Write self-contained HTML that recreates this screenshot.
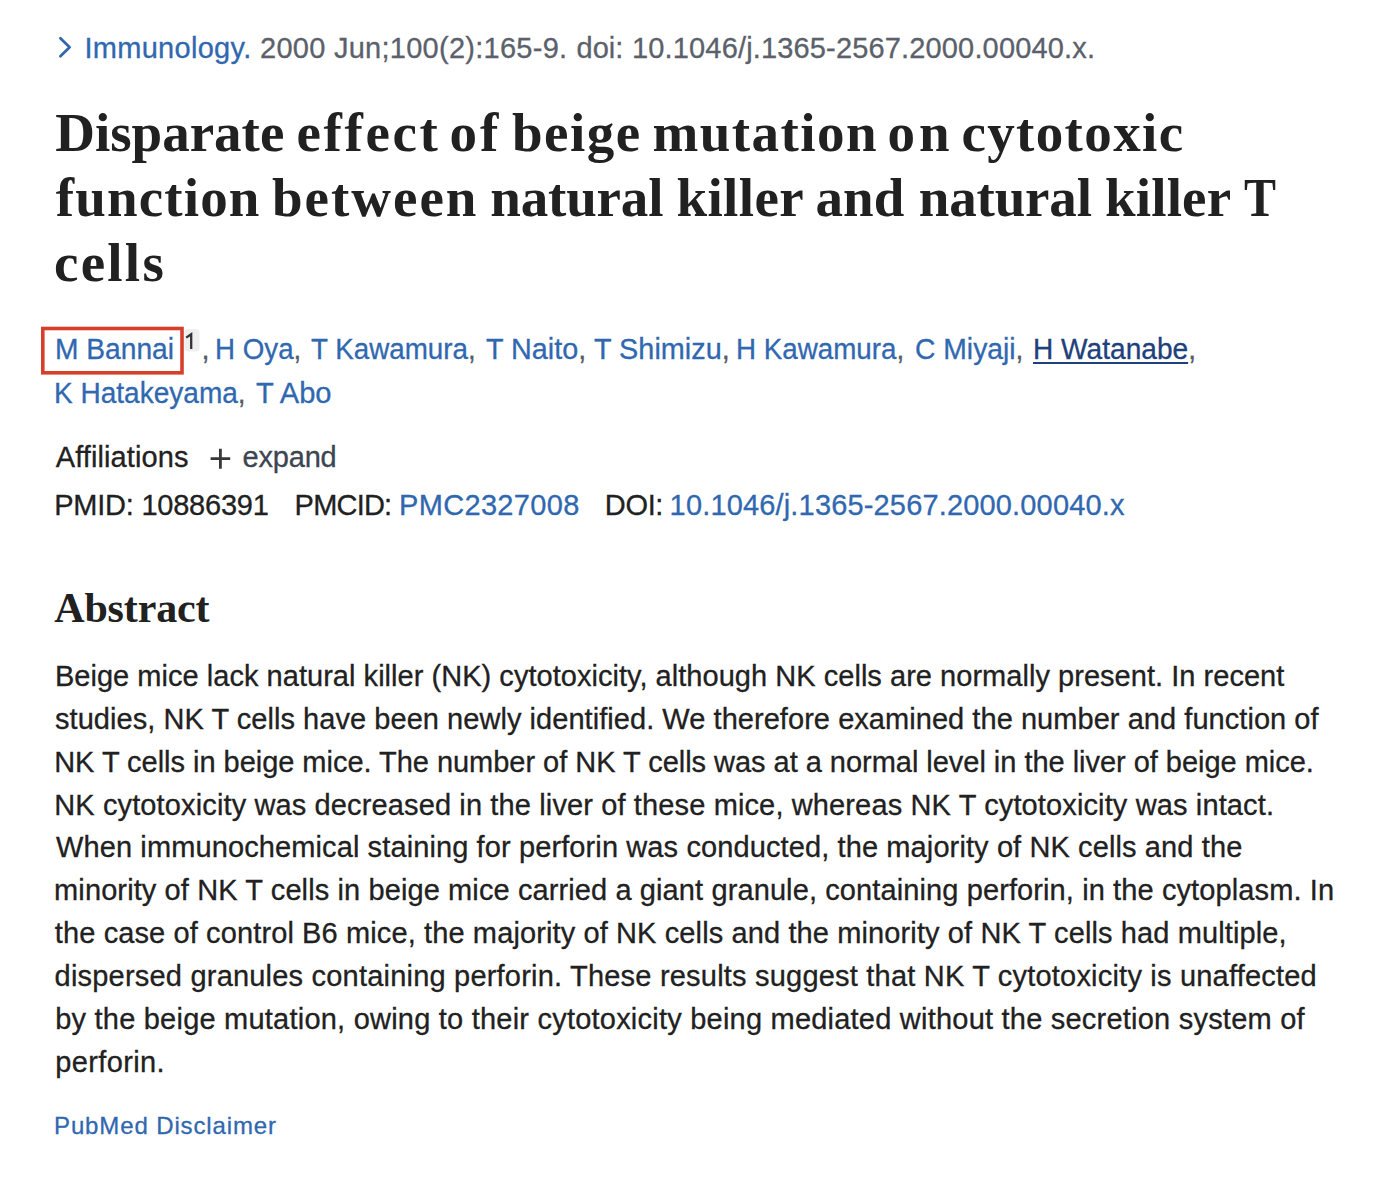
<!DOCTYPE html>
<html><head><meta charset="utf-8"><style>
html,body{margin:0;padding:0;background:#fff;width:1380px;height:1187px;overflow:hidden;position:relative}
.ln{position:absolute;white-space:nowrap;-webkit-text-stroke:0.3px currentColor}
.a{color:#3068b0}
.cm{color:#555b66}
.hov{color:#20407c;text-decoration:underline;text-decoration-thickness:2px;text-underline-offset:3px}
.sp{display:inline-block;width:28px}
svg{position:absolute;left:0;top:0}
</style></head><body>
<div id="jr0" class="ln" style="top:33.65px;left:84.40px;font-family:'Liberation Sans', sans-serif;font-size:29px;line-height:29px;color:#3068b0;font-weight:normal;letter-spacing:0.300px">Immunology.</div>
<div id="jr1" class="ln" style="top:33.65px;left:260.00px;font-family:'Liberation Sans', sans-serif;font-size:29px;line-height:29px;color:#5b616b;font-weight:normal;letter-spacing:0.267px">2000 Jun;100(2):165-9.</div>
<div id="jr2" class="ln" style="top:33.65px;left:576.60px;font-family:'Liberation Sans', sans-serif;font-size:29px;line-height:29px;color:#5b616b;font-weight:normal;letter-spacing:0.000px">doi:</div>
<div id="jr3" class="ln" style="top:33.65px;left:632.00px;font-family:'Liberation Sans', sans-serif;font-size:29px;line-height:29px;color:#5b616b;font-weight:normal;letter-spacing:0.156px">10.1046/j.1365-2567.2000.00040.x.</div>
<div id="t0_0" class="ln" style="top:104.94px;left:55.20px;font-family:'Liberation Serif', serif;font-size:55px;line-height:55px;color:#212121;font-weight:bold;-webkit-text-stroke:0;letter-spacing:0.000px">Disparate</div>
<div id="t0_1" class="ln" style="top:104.94px;left:296.60px;font-family:'Liberation Serif', serif;font-size:55px;line-height:55px;color:#212121;font-weight:bold;-webkit-text-stroke:0;letter-spacing:2.600px">effect</div>
<div id="t0_2" class="ln" style="top:104.94px;left:449.60px;font-family:'Liberation Serif', serif;font-size:55px;line-height:55px;color:#212121;font-weight:bold;-webkit-text-stroke:0;letter-spacing:3.000px">of</div>
<div id="t0_3" class="ln" style="top:104.94px;left:512.00px;font-family:'Liberation Serif', serif;font-size:55px;line-height:55px;color:#212121;font-weight:bold;-webkit-text-stroke:0;letter-spacing:1.500px">beige</div>
<div id="t0_4" class="ln" style="top:104.94px;left:652.60px;font-family:'Liberation Serif', serif;font-size:55px;line-height:55px;color:#212121;font-weight:bold;-webkit-text-stroke:0;letter-spacing:1.429px">mutation</div>
<div id="t0_5" class="ln" style="top:104.94px;left:887.60px;font-family:'Liberation Serif', serif;font-size:55px;line-height:55px;color:#212121;font-weight:bold;-webkit-text-stroke:0;letter-spacing:4.000px">on</div>
<div id="t0_6" class="ln" style="top:104.94px;left:961.40px;font-family:'Liberation Serif', serif;font-size:55px;line-height:55px;color:#212121;font-weight:bold;-webkit-text-stroke:0;letter-spacing:1.375px">cytotoxic</div>
<div id="t1_0" class="ln" style="top:169.94px;left:55.80px;font-family:'Liberation Serif', serif;font-size:55px;line-height:55px;color:#212121;font-weight:bold;-webkit-text-stroke:0;letter-spacing:1.143px">function</div>
<div id="t1_1" class="ln" style="top:169.94px;left:272.00px;font-family:'Liberation Serif', serif;font-size:55px;line-height:55px;color:#212121;font-weight:bold;-webkit-text-stroke:0;letter-spacing:2.000px">between</div>
<div id="t1_2" class="ln" style="top:169.94px;left:490.30px;font-family:'Liberation Serif', serif;font-size:55px;line-height:55px;color:#212121;font-weight:bold;-webkit-text-stroke:0;letter-spacing:-0.167px">natural</div>
<div id="t1_3" class="ln" style="top:169.94px;left:676.40px;font-family:'Liberation Serif', serif;font-size:55px;line-height:55px;color:#212121;font-weight:bold;-webkit-text-stroke:0;letter-spacing:0.400px">killer</div>
<div id="t1_4" class="ln" style="top:169.94px;left:815.60px;font-family:'Liberation Serif', serif;font-size:55px;line-height:55px;color:#212121;font-weight:bold;-webkit-text-stroke:0;letter-spacing:-0.000px">and</div>
<div id="t1_5" class="ln" style="top:169.94px;left:918.80px;font-family:'Liberation Serif', serif;font-size:55px;line-height:55px;color:#212121;font-weight:bold;-webkit-text-stroke:0;letter-spacing:-0.167px">natural</div>
<div id="t1_6" class="ln" style="top:169.94px;left:1104.90px;font-family:'Liberation Serif', serif;font-size:55px;line-height:55px;color:#212121;font-weight:bold;-webkit-text-stroke:0;letter-spacing:0.200px">killer</div>
<div id="t1_7" class="ln" style="top:169.94px;left:1243.70px;font-family:'Liberation Serif', serif;font-size:55px;line-height:55px;color:#212121;font-weight:bold;-webkit-text-stroke:0;letter-spacing:0.000px;transform:scaleX(0.8721);transform-origin:0 0">T</div>
<div id="t2_0" class="ln" style="top:234.94px;left:54.00px;font-family:'Liberation Serif', serif;font-size:55px;line-height:55px;color:#212121;font-weight:bold;-webkit-text-stroke:0;letter-spacing:2.250px">cells</div>
<div id="au0_0" class="ln" style="top:335.45px;left:54.50px;font-family:'Liberation Sans', sans-serif;font-size:29px;line-height:29px;color:#3068b0;font-weight:normal;letter-spacing:0.000px;transform:scaleX(0.9714);transform-origin:0 0"><span class="a">M Bannai</span></div>
<div id="au0_1" class="ln" style="top:335.45px;left:215.40px;font-family:'Liberation Sans', sans-serif;font-size:29px;line-height:29px;color:#3068b0;font-weight:normal;letter-spacing:0.000px;transform:scaleX(0.9562);transform-origin:0 0"><span class="a">H Oya</span><span class="cm">,</span></div>
<div id="au0_2" class="ln" style="top:335.45px;left:310.90px;font-family:'Liberation Sans', sans-serif;font-size:29px;line-height:29px;color:#3068b0;font-weight:normal;letter-spacing:0.000px;transform:scaleX(0.9578);transform-origin:0 0"><span class="a">T Kawamura</span><span class="cm">,</span></div>
<div id="au0_3" class="ln" style="top:335.45px;left:486.10px;font-family:'Liberation Sans', sans-serif;font-size:29px;line-height:29px;color:#3068b0;font-weight:normal;letter-spacing:0.000px;transform:scaleX(0.9923);transform-origin:0 0"><span class="a">T Naito</span><span class="cm">,</span></div>
<div id="au0_4" class="ln" style="top:335.45px;left:594.30px;font-family:'Liberation Sans', sans-serif;font-size:29px;line-height:29px;color:#3068b0;font-weight:normal;letter-spacing:0.000px;transform:scaleX(0.9948);transform-origin:0 0"><span class="a">T Shimizu</span><span class="cm">,</span></div>
<div id="au0_5" class="ln" style="top:335.45px;left:735.70px;font-family:'Liberation Sans', sans-serif;font-size:29px;line-height:29px;color:#3068b0;font-weight:normal;letter-spacing:0.000px;transform:scaleX(0.9572);transform-origin:0 0"><span class="a">H Kawamura</span><span class="cm">,</span></div>
<div id="au0_6" class="ln" style="top:335.45px;left:915.00px;font-family:'Liberation Sans', sans-serif;font-size:29px;line-height:29px;color:#3068b0;font-weight:normal;letter-spacing:0.000px;transform:scaleX(0.9756);transform-origin:0 0"><span class="a">C Miyaji</span><span class="cm">,</span></div>
<div id="au0_7" class="ln" style="top:335.45px;left:1033.30px;font-family:'Liberation Sans', sans-serif;font-size:29px;line-height:29px;color:#3068b0;font-weight:normal;letter-spacing:0.000px;transform:scaleX(0.9690);transform-origin:0 0"><span class="a hov">H Watanabe</span><span class="cm">,</span></div>
<div id="au0_c0" class="ln" style="top:335.45px;left:201.60px;font-family:'Liberation Sans', sans-serif;font-size:29px;line-height:29px;color:#3068b0;font-weight:normal;letter-spacing:0.000px"><span class="cm">,</span></div>
<div id="au1_0" class="ln" style="top:378.55px;left:54.10px;font-family:'Liberation Sans', sans-serif;font-size:29px;line-height:29px;color:#3068b0;font-weight:normal;letter-spacing:0.000px;transform:scaleX(0.9665);transform-origin:0 0"><span class="a">K Hatakeyama</span><span class="cm">,</span></div>
<div id="au1_1" class="ln" style="top:378.55px;left:256.10px;font-family:'Liberation Sans', sans-serif;font-size:29px;line-height:29px;color:#3068b0;font-weight:normal;letter-spacing:0.000px;transform:scaleX(1.0035);transform-origin:0 0"><span class="a">T Abo</span></div>
<div id="af" class="ln" style="top:442.55px;left:55.80px;font-family:'Liberation Sans', sans-serif;font-size:29px;line-height:29px;color:#212121;font-weight:normal;letter-spacing:0.091px">Affiliations</div>
<div id="ex" class="ln" style="top:442.55px;left:242.60px;font-family:'Liberation Sans', sans-serif;font-size:29px;line-height:29px;color:#3d4551;font-weight:normal;letter-spacing:-0.200px">expand</div>
<div id="pm0" class="ln" style="top:490.55px;left:54.20px;font-family:'Liberation Sans', sans-serif;font-size:29px;line-height:29px;color:#212121;font-weight:normal;letter-spacing:-0.231px">PMID: 10886391</div>
<div id="pm1" class="ln" style="top:490.55px;left:294.60px;font-family:'Liberation Sans', sans-serif;font-size:29px;line-height:29px;color:#212121;font-weight:normal;letter-spacing:-0.800px">PMCID:</div>
<div id="pm2" class="ln" style="top:490.55px;left:399.00px;font-family:'Liberation Sans', sans-serif;font-size:29px;line-height:29px;color:#3068b0;font-weight:normal;letter-spacing:0.333px">PMC2327008</div>
<div id="pm3" class="ln" style="top:490.55px;left:604.80px;font-family:'Liberation Sans', sans-serif;font-size:29px;line-height:29px;color:#212121;font-weight:normal;letter-spacing:-0.333px">DOI:</div>
<div id="pm4" class="ln" style="top:490.55px;left:669.60px;font-family:'Liberation Sans', sans-serif;font-size:29px;line-height:29px;color:#3068b0;font-weight:normal;letter-spacing:0.161px">10.1046/j.1365-2567.2000.00040.x</div>
<div id="ah" class="ln" style="top:586.83px;left:54.20px;font-family:'Liberation Serif', serif;font-size:42px;line-height:42px;color:#212121;font-weight:bold;-webkit-text-stroke:0;letter-spacing:-0.143px">Abstract</div>
<div id="b0" class="ln" style="top:662.05px;left:54.90px;font-family:'Liberation Sans', sans-serif;font-size:29px;line-height:29px;color:#212121;font-weight:normal;letter-spacing:0.035px">Beige mice lack natural killer (NK) cytotoxicity, although NK cells are normally present. In recent</div>
<div id="b1" class="ln" style="top:704.89px;left:55.00px;font-family:'Liberation Sans', sans-serif;font-size:29px;line-height:29px;color:#212121;font-weight:normal;letter-spacing:0.048px">studies, NK T cells have been newly identified. We therefore examined the number and function of</div>
<div id="b2" class="ln" style="top:747.73px;left:54.20px;font-family:'Liberation Sans', sans-serif;font-size:29px;line-height:29px;color:#212121;font-weight:normal;letter-spacing:-0.030px">NK T cells in beige mice. The number of NK T cells was at a normal level in the liver of beige mice.</div>
<div id="b3" class="ln" style="top:790.57px;left:54.20px;font-family:'Liberation Sans', sans-serif;font-size:29px;line-height:29px;color:#212121;font-weight:normal;letter-spacing:0.128px">NK cytotoxicity was decreased in the liver of these mice, whereas NK T cytotoxicity was intact.</div>
<div id="b4" class="ln" style="top:833.41px;left:56.00px;font-family:'Liberation Sans', sans-serif;font-size:29px;line-height:29px;color:#212121;font-weight:normal;letter-spacing:0.109px">When immunochemical staining for perforin was conducted, the majority of NK cells and the</div>
<div id="b5" class="ln" style="top:876.25px;left:54.10px;font-family:'Liberation Sans', sans-serif;font-size:29px;line-height:29px;color:#212121;font-weight:normal;letter-spacing:0.106px">minority of NK T cells in beige mice carried a giant granule, containing perforin, in the cytoplasm. In</div>
<div id="b6" class="ln" style="top:919.09px;left:54.80px;font-family:'Liberation Sans', sans-serif;font-size:29px;line-height:29px;color:#212121;font-weight:normal;letter-spacing:0.115px">the case of control B6 mice, the majority of NK cells and the minority of NK T cells had multiple,</div>
<div id="b7" class="ln" style="top:961.93px;left:54.60px;font-family:'Liberation Sans', sans-serif;font-size:29px;line-height:29px;color:#212121;font-weight:normal;letter-spacing:0.204px">dispersed granules containing perforin. These results suggest that NK T cytotoxicity is unaffected</div>
<div id="b8" class="ln" style="top:1004.77px;left:55.20px;font-family:'Liberation Sans', sans-serif;font-size:29px;line-height:29px;color:#212121;font-weight:normal;letter-spacing:0.219px">by the beige mutation, owing to their cytotoxicity being mediated without the secretion system of</div>
<div id="b9" class="ln" style="top:1047.61px;left:55.20px;font-family:'Liberation Sans', sans-serif;font-size:29px;line-height:29px;color:#212121;font-weight:normal;letter-spacing:0.375px">perforin.</div>
<div id="dc" class="ln" style="top:1114.18px;left:54.00px;font-family:'Liberation Sans', sans-serif;font-size:24px;line-height:24px;color:#3068b0;font-weight:normal;letter-spacing:0.875px">PubMed Disclaimer</div>
<svg width="1380" height="600" viewBox="0 0 1380 600">
<path d="M60.4 38.3 L69.6 47.3 L60.4 56.2" fill="none" stroke="#2f66ac" stroke-width="2.7" stroke-linecap="round" stroke-linejoin="round"/>
<rect x="42.8" y="328.5" width="139.2" height="44.3" fill="none" stroke="#d6402a" stroke-width="3.6"/>
<rect x="184.5" y="329.1" width="15" height="22.5" rx="3.5" fill="#efefef"/>
<path d="M186.2 337.6 L191.2 334.2 L191.2 349" fill="none" stroke="#333" stroke-width="2.3" stroke-linejoin="miter"/>
<path d="M220.4 448.7 V468.7 M210.6 458.7 H230.2" stroke="#383838" stroke-width="2.8"/>
</svg>
</body></html>
